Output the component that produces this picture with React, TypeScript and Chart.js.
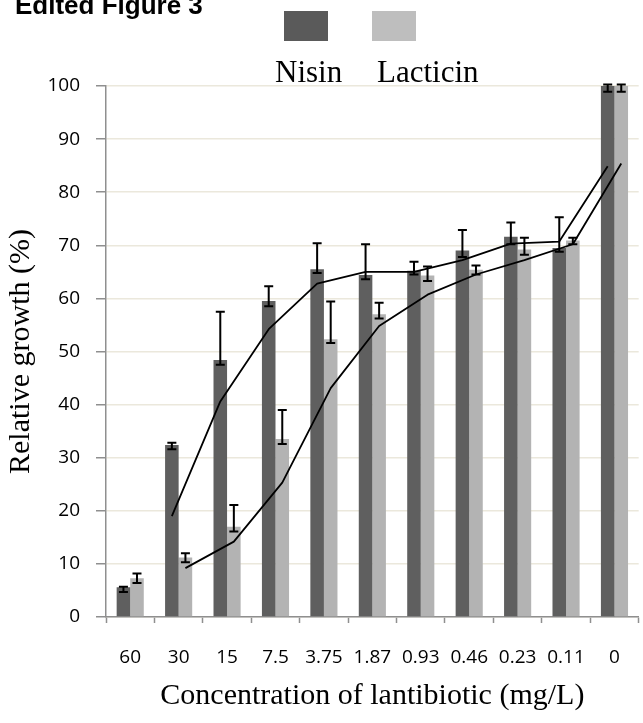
import { useEffect, useRef } from 'react';
import { Chart, registerables } from 'chart.js';

Chart.register(...registerables);

const chartTitle = 'Edited Figure 3';
const xTitle = 'Concentration of lantibiotic (mg/L)';
const yTitle = 'Relative growth (%)';
const seriesNames = ['Nisin', 'Lacticin'];

const categories = ['60', '30', '15', '7.5', '3.75', '1.87', '0.93', '0.46', '0.23', '0.11', '0'];

const nisin = [5.6, 32.4, 48.4, 59.5, 65.5, 64.4, 65.2, 69.0, 71.6, 69.5, 100];
const lacticin = [7.3, 11.2, 17.0, 33.5, 52.3, 57.0, 64.3, 65.4, 69.2, 70.9, 100];

const nisinErrLow = [4.7, 31.6, 47.5, 58.5, 64.8, 63.6, 64.5, 67.8, 70.2, 68.8, 98.9];
const nisinErrHigh = [5.7, 32.8, 57.5, 62.3, 70.4, 70.2, 66.9, 72.9, 74.3, 75.3, 100.3];
const lacticinErrLow = [6.4, 10.3, 16.1, 32.6, 51.6, 56.2, 63.3, 64.5, 68.2, 70.2, 98.9];
const lacticinErrHigh = [8.2, 12.0, 21.1, 39.0, 59.4, 59.2, 66.0, 66.2, 71.4, 71.4, 100.3];

// moving-average trend lines
const nisinTrend = [null, 19.0, 40.6, 54.2, 62.8, 65.0, 65.0, 67.2, 70.3, 70.7, 84.9];
const lacticinTrend = [null, 9.2, 14.2, 25.3, 43.1, 54.8, 60.7, 64.5, 67.2, 70.2, 85.4];

const yTickStep = 10;
const yMin = 0;
const yMax = 100;

const NISIN_COLOR = '#5f5f5f';
const LACTICIN_COLOR = '#b3b3b3';
const NISIN_LEGEND = '#5a5a5a';
const LACTICIN_LEGEND = '#bebebe';
const AXIS_COLOR = '#8f8f8f';
const GRID_COLOR = '#ebe8dc';
const PAIR_FRACTION = 0.56;

const overlayPlugin = {
  id: 'overlay',
  afterDatasetsDraw(chart: any) {
    const ctx = chart.ctx;
    const ys = chart.scales.y;
    ctx.save();
    const trends: [number, (number | null)[]][] = [
      [0, nisinTrend],
      [1, lacticinTrend],
    ];
    ctx.strokeStyle = '#000';
    ctx.lineWidth = 1.8;
    ctx.lineJoin = 'round';
    trends.forEach(([di, vals]) => {
      const meta = chart.getDatasetMeta(di);
      ctx.beginPath();
      let started = false;
      vals.forEach((v, i) => {
        if (v === null) return;
        const x = meta.data[i].x;
        const y = ys.getPixelForValue(v);
        if (!started) {
          ctx.moveTo(x, y);
          started = true;
        } else ctx.lineTo(x, y);
      });
      ctx.stroke();
    });
    const sets: [number, number[], number[]][] = [
      [0, nisinErrLow, nisinErrHigh],
      [1, lacticinErrLow, lacticinErrHigh],
    ];
    ctx.lineWidth = 2;
    sets.forEach(([di, lo, hi]) => {
      const meta = chart.getDatasetMeta(di);
      meta.data.forEach((bar: any, i: number) => {
        const x = bar.x;
        const y1 = ys.getPixelForValue(lo[i]);
        const y2 = ys.getPixelForValue(hi[i]);
        ctx.beginPath();
        ctx.moveTo(x, y1);
        ctx.lineTo(x, y2);
        ctx.moveTo(x - 4.5, y1);
        ctx.lineTo(x + 4.5, y1);
        ctx.moveTo(x - 4.5, y2);
        ctx.lineTo(x + 4.5, y2);
        ctx.stroke();
      });
    });
    ctx.restore();
  },
  afterDraw(chart: any) {
    const ctx = chart.ctx;
    ctx.save();
    ctx.fillStyle = '#000';
    ctx.font = 'bold 26px "Liberation Sans", Arial, sans-serif';
    ctx.textAlign = 'left';
    ctx.textBaseline = 'alphabetic';
    ctx.fillText(chartTitle, 15, 13.5);
    ctx.fillStyle = NISIN_LEGEND;
    ctx.fillRect(284, 11, 44, 30);
    ctx.fillStyle = LACTICIN_LEGEND;
    ctx.fillRect(372, 11, 44, 30);
    ctx.fillStyle = '#000';
    ctx.font = '31px "Liberation Serif", "Times New Roman", serif';
    ctx.fillText(seriesNames[0], 275, 82);
    ctx.fillText(seriesNames[1], 377, 82);
    ctx.restore();
  },
};

export default function App() {
  const ref = useRef<HTMLCanvasElement | null>(null);

  useEffect(() => {
    document.body.style.margin = '0';
    const canvas = ref.current;
    if (!canvas) return;
    const chart = new Chart(canvas, {
      type: 'bar',
      data: {
        labels: categories,
        datasets: [
          {
            label: seriesNames[0],
            data: nisin,
            backgroundColor: NISIN_COLOR,
            categoryPercentage: PAIR_FRACTION,
            barPercentage: 1,
          },
          {
            label: seriesNames[1],
            data: lacticin,
            backgroundColor: LACTICIN_COLOR,
            categoryPercentage: PAIR_FRACTION,
            barPercentage: 1,
          },
        ],
      },
      options: {
        animation: false,
        responsive: false,
        maintainAspectRatio: false,
        layout: { padding: { top: 86, right: 2, left: 0, bottom: 0 } },
        plugins: {
          legend: { display: false },
          tooltip: { enabled: false },
          title: { display: false },
        },
        scales: {
          x: {
            type: 'category',
            offset: true,
            grid: {
              offset: true,
              drawOnChartArea: false,
              drawTicks: true,
              tickLength: 6,
              tickColor: AXIS_COLOR,
              tickWidth: 1.5,
            },
            border: { color: AXIS_COLOR, width: 1.5 },
            ticks: {
              color: '#000',
              font: { family: '"Open Sans", sans-serif', size: 19 },
              padding: 23,
              maxRotation: 0,
              autoSkip: false,
            },
            title: {
              display: true,
              text: xTitle,
              color: '#000',
              font: { family: '"Liberation Serif", serif', size: 30 },
              padding: { top: 0, bottom: 9 },
            },
            afterFit(s: any) {
              s.height = 106;
            },
          },
          y: {
            min: yMin,
            max: yMax,
            ticks: {
              stepSize: yTickStep,
              color: '#000',
              font: { family: '"Open Sans", sans-serif', size: 19 },
              padding: 16,
            },
            grid: {
              color: GRID_COLOR,
              lineWidth: 1.5,
              drawTicks: true,
              tickLength: 10,
              tickColor: AXIS_COLOR,
              tickWidth: 1.5,
            },
            border: { color: AXIS_COLOR, width: 1.5 },
            title: {
              display: true,
              text: yTitle,
              color: '#000',
              font: { family: '"Liberation Serif", serif', size: 30 },
              padding: { top: 3, bottom: 0 },
            },
            afterFit(s: any) {
              s.width = 106;
            },
          },
        },
      } as any,
      plugins: [overlayPlugin],
    });
    return () => chart.destroy();
  }, []);

  return (
    <div style={{ width: 643, height: 723 }}>
      <canvas ref={ref} width={643} height={723} style={{ display: 'block' }} />
    </div>
  );
}
